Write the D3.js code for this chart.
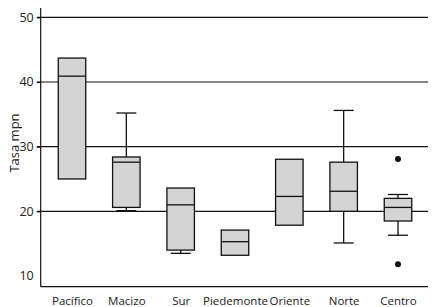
<!DOCTYPE html>
<html><head><meta charset="utf-8">
<script src="https://cdn.jsdelivr.net/npm/d3@7"></script>
<style>body{margin:0;background:#fff}svg{display:block}text{font-family:"Open Sans",sans-serif;fill:#222}</style>
</head><body><svg id="c" width="440" height="307"></svg>
<script>
const categories = ["Pacífico","Macizo","Sur","Piedemonte","Oriente","Norte","Centro"];
const q1       = [25.0, 20.6, 14.0, 13.2, 17.85, 20.0, 18.5];
const medians  = [40.9, 27.6, 21.0, 15.3, 22.3, 23.1, 20.6];
const q3       = [43.7, 28.4, 23.6, 17.1, 28.05, 27.6, 22.0];
const whiskLo  = [25.0, 20.1, 13.5, 13.2, 17.85, 15.1, 16.3];
const whiskHi  = [43.7, 35.2, 23.6, 17.1, 28.05, 35.6, 22.6];
const outliers = [[],[],[],[],[],[],[28.1, 11.8]];
const yTicks = [10,20,30,40,50];
const gridTicks = [20,30,40,50];
const yLabel = "Tasa mpn";

const svg = d3.select("#c");
const y = d3.scaleLinear().domain([8.34, 51.44]).range([286.7, 8]);
const x = d3.scalePoint().domain(categories).range([72, 398]);
const left = 40.7, right = 428, bw = 27.5, cw = 20;

// grid lines
svg.append("g").selectAll("line").data(gridTicks).join("line")
  .attr("x1", 37).attr("x2", right)
  .attr("y1", d => y(d)).attr("y2", d => y(d))
  .attr("stroke", "#111").attr("stroke-width", 1.2);

// y axis
const ya = svg.append("g").attr("transform", `translate(${left},0)`)
  .call(d3.axisLeft(y).tickValues(yTicks).tickSize(4).tickPadding(3));
ya.select(".domain").remove();
ya.selectAll("line").attr("stroke", "#111").attr("stroke-width", 1.2).attr("opacity", d => d === 10 ? 0 : 1);
ya.selectAll("text").style("font-family", '"Open Sans",sans-serif').style("font-size", "12.5px").attr("fill", "#333");
svg.append("line").attr("x1", left).attr("x2", left).attr("y1", 8).attr("y2", 286.7)
  .attr("stroke", "#111").attr("stroke-width", 1.2);

// x axis
svg.append("line").attr("x1", left).attr("x2", right).attr("y1", 286.7).attr("y2", 286.7)
  .attr("stroke", "#111").attr("stroke-width", 1.2);
const xa = svg.append("g").attr("transform", "translate(0,286.7)")
  .call(d3.axisBottom(x).tickSize(0).tickPadding(10));
xa.select(".domain").remove();
xa.selectAll("text").style("font-family", '"Open Sans",sans-serif').style("font-size", "11.5px").attr("fill", "#333");

// y label
svg.append("text").attr("transform", "translate(19,143) rotate(-90)")
  .attr("text-anchor", "middle").style("font-size", "13px").attr("fill", "#333").text(yLabel);

// boxes
const g = svg.append("g").selectAll("g").data(categories).join("g");
g.append("line").attr("x1", d => x(d)).attr("x2", d => x(d))
  .attr("y1", (d,i) => y(whiskHi[i])).attr("y2", (d,i) => y(q3[i]))
  .attr("stroke", "#111").attr("stroke-width", 1.3);
g.append("line").attr("x1", d => x(d)).attr("x2", d => x(d))
  .attr("y1", (d,i) => y(whiskLo[i])).attr("y2", (d,i) => y(q1[i]))
  .attr("stroke", "#111").attr("stroke-width", 1.3);
g.filter((d,i) => whiskHi[i] > q3[i]).append("line")
  .attr("x1", d => x(d) - cw/2).attr("x2", d => x(d) + cw/2)
  .attr("y1", d => y(whiskHi[categories.indexOf(d)])).attr("y2", d => y(whiskHi[categories.indexOf(d)]))
  .attr("stroke", "#111").attr("stroke-width", 1.3);
g.filter((d,i) => whiskLo[i] < q1[i]).append("line")
  .attr("x1", d => x(d) - cw/2).attr("x2", d => x(d) + cw/2)
  .attr("y1", d => y(whiskLo[categories.indexOf(d)])).attr("y2", d => y(whiskLo[categories.indexOf(d)]))
  .attr("stroke", "#111").attr("stroke-width", 1.3);
g.append("rect").attr("x", d => x(d) - bw/2).attr("width", bw)
  .attr("y", (d,i) => y(q3[i])).attr("height", (d,i) => y(q1[i]) - y(q3[i]))
  .attr("fill", "#d4d4d4").attr("stroke", "#111").attr("stroke-width", 1.3);
g.append("line").attr("x1", d => x(d) - bw/2).attr("x2", d => x(d) + bw/2)
  .attr("y1", (d,i) => y(medians[i])).attr("y2", (d,i) => y(medians[i]))
  .attr("stroke", "#111").attr("stroke-width", 1.3);
g.each(function(d,i){
  d3.select(this).selectAll("circle").data(outliers[i]).join("circle")
    .attr("cx", x(d)).attr("cy", v => y(v)).attr("r", 3).attr("fill", "#111");
});
</script></body></html>
